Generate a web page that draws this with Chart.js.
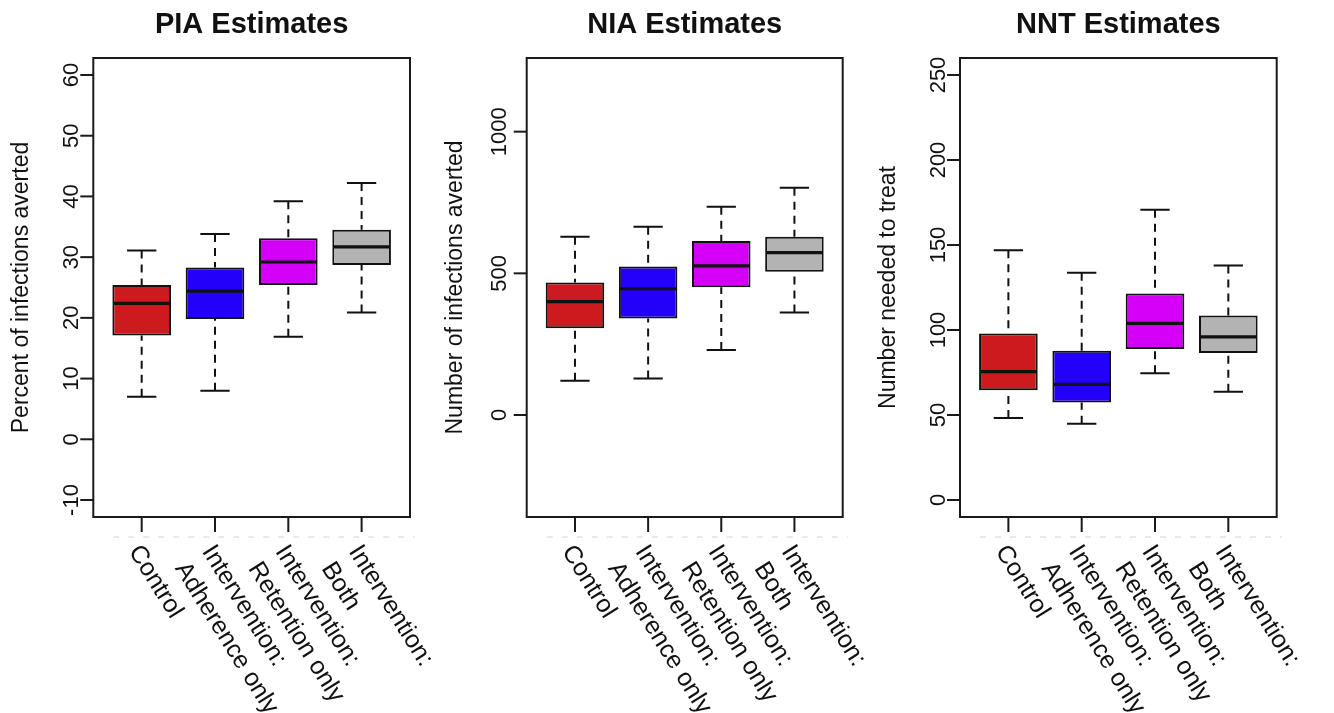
<!DOCTYPE html>
<html>
<head>
<meta charset="utf-8">
<script src="https://cdn.jsdelivr.net/npm/chart.js@4.4.1/dist/chart.umd.min.js"></script>
<style>
  html, body { margin: 0; padding: 0; background: #ffffff; }
  #wrap { position: relative; width: 1334px; height: 713px; overflow: hidden; background: #ffffff; }
  #wrap canvas { position: absolute; left: 0; top: 0; }
</style>
</head>
<body>
<div id="wrap">
  <canvas id="c1" width="1334" height="713"></canvas>
  <canvas id="c2" width="1334" height="713"></canvas>
  <canvas id="c3" width="1334" height="713"></canvas>
</div>
<script>
// ---------------- data ----------------
const categories = [
  ["Control"],
  ["Intervention:", "Adherence only"],
  ["Intervention:", "Retention only"],
  ["Intervention:", "Both"]
];
const positions = [1, 2, 3, 4];
const boxColors = ["#CC1A1E", "#2200FA", "#D200F6", "#B3B3B3"];

// PIA (percent of infections averted)
const piaLow    = [7.0, 8.0, 16.9, 20.9];
const piaQ1     = [17.1, 19.8, 25.4, 28.7];
const piaMedian = [22.4, 24.4, 29.2, 31.7];
const piaQ3     = [25.4, 28.3, 33.1, 34.5];
const piaHigh   = [31.1, 33.8, 39.2, 42.2];
const piaTicks  = [-10, 0, 10, 20, 30, 40, 50, 60];
const piaLimits = [-10, 60];

// NIA (number of infections averted)
const niaLow    = [121, 129, 229, 362];
const niaQ1     = [306, 341, 451, 506];
const niaMedian = [400, 446, 526, 573];
const niaQ3     = [468, 524, 614, 629];
const niaHigh   = [629, 664, 735, 802];
const niaTicks  = [0, 500, 1000];
const niaLimits = [-300, 1200];

// NNT (number needed to treat)
const nntLow    = [48.2, 44.9, 74.5, 63.7];
const nntQ1     = [64.5, 57.4, 88.8, 86.5];
const nntMedian = [75.5, 68.0, 103.9, 95.9];
const nntQ3     = [98.0, 87.8, 121.4, 108.6];
const nntHigh   = [146.9, 133.7, 170.8, 138.0];
const nntTicks  = [0, 50, 100, 150, 200, 250];
const nntLimits = [0, 250];

// ---------------- layout / style ----------------
const FONT = '"Liberation Sans", Arial, Helvetica, sans-serif';
const W = 1334, H = 713;
const panels = [
  { id: 'c1', title: 'PIA Estimates', ylab: 'Percent of infections averted',
    low: piaLow, q1: piaQ1, med: piaMedian, q3: piaQ3, high: piaHigh,
    ticks: piaTicks, limits: piaLimits, box: [93.3, 58, 410, 517], tickLabOff: 15 },
  { id: 'c2', title: 'NIA Estimates', ylab: 'Number of infections averted',
    low: niaLow, q1: niaQ1, med: niaMedian, q3: niaQ3, high: niaHigh,
    ticks: niaTicks, limits: niaLimits, box: [526.7, 58, 842.7, 517], tickLabOff: 21 },
  { id: 'c3', title: 'NNT Estimates', ylab: 'Number needed to treat',
    low: nntLow, q1: nntQ1, med: nntMedian, q3: nntQ3, high: nntHigh,
    ticks: nntTicks, limits: nntLimits, box: [960, 58, 1276.7, 517], tickLabOff: 15 }
];

// R-style 4% axis extension
function extend(lim) {
  const d = (lim[1] - lim[0]) * 0.04;
  return [lim[0] - d, lim[1] + d];
}
const xLimits = extend([0.5, positions.length + 0.5]);

const rBoxPlot = {
  id: 'rBoxPlot',
  beforeDatasetsDraw(chart, args, opts) {
    const p = opts.panel;
    const { ctx, scales: { x, y } } = chart;
    const meta = chart.getDatasetMeta(0);
    ctx.save();
    ctx.strokeStyle = '#111';
    ctx.lineWidth = 2;
    positions.forEach((pos, i) => {
      const xc = x.getPixelForValue(pos);
      const w = meta.data[i].width;
      ctx.setLineDash([8, 6]);
      ctx.beginPath();
      ctx.moveTo(xc, y.getPixelForValue(p.high[i]));
      ctx.lineTo(xc, y.getPixelForValue(p.q3[i]));
      ctx.moveTo(xc, y.getPixelForValue(p.low[i]));
      ctx.lineTo(xc, y.getPixelForValue(p.q1[i]));
      ctx.stroke();
      ctx.setLineDash([]);
      ctx.beginPath();
      [p.high[i], p.low[i]].forEach(v => {
        const yy = y.getPixelForValue(v);
        ctx.moveTo(xc - w / 4, yy);
        ctx.lineTo(xc + w / 4, yy);
      });
      ctx.stroke();
    });
    ctx.restore();
  },
  afterDatasetsDraw(chart, args, opts) {
    const p = opts.panel;
    const { ctx, scales: { x, y } } = chart;
    const meta = chart.getDatasetMeta(0);
    ctx.save();
    ctx.strokeStyle = '#111';
    ctx.lineWidth = 3.2;
    positions.forEach((pos, i) => {
      const xc = x.getPixelForValue(pos);
      const w = meta.data[i].width;
      const yy = y.getPixelForValue(p.med[i]);
      ctx.beginPath();
      ctx.moveTo(xc - w / 2 + 1, yy);
      ctx.lineTo(xc + w / 2 - 1, yy);
      ctx.stroke();
    });
    ctx.restore();
  },
  afterDraw(chart, args, opts) {
    const p = opts.panel;
    const { ctx, chartArea: a, scales: { x, y } } = chart;
    ctx.save();
    // faint dashed artefact line below the axis
    ctx.strokeStyle = '#e2e2e2';
    ctx.lineWidth = 1.5;
    ctx.setLineDash([6, 9]);
    ctx.beginPath();
    ctx.moveTo(a.left + 20, a.bottom + 20);
    ctx.lineTo(a.right + 5, a.bottom + 20);
    ctx.stroke();
    ctx.setLineDash([]);

    // frame
    ctx.strokeStyle = '#1a1a1a';
    ctx.lineWidth = 2;
    ctx.strokeRect(a.left, a.top, a.right - a.left, a.bottom - a.top);

    // y ticks + labels
    ctx.fillStyle = '#111';
    ctx.font = '22px ' + FONT;
    y.ticks.forEach(t => {
      const yy = y.getPixelForValue(t.value);
      ctx.beginPath();
      ctx.moveTo(a.left - 13, yy);
      ctx.lineTo(a.left, yy);
      ctx.stroke();
      ctx.save();
      ctx.translate(a.left - p.tickLabOff, yy);
      ctx.rotate(-Math.PI / 2);
      ctx.textAlign = 'center';
      ctx.textBaseline = 'alphabetic';
      ctx.fillText(String(t.value), 0, 0);
      ctx.restore();
    });

    // y axis title
    ctx.save();
    ctx.font = '23px ' + FONT;
    ctx.translate(a.left - 65, (a.top + a.bottom) / 2);
    ctx.rotate(-Math.PI / 2);
    ctx.textAlign = 'center';
    ctx.textBaseline = 'alphabetic';
    ctx.fillText(p.ylab, 0, 0);
    ctx.restore();

    // x ticks + rotated multi-line labels
    ctx.font = '25px ' + FONT;
    x.ticks.forEach((t, i) => {
      const xx = x.getPixelForValue(t.value);
      ctx.beginPath();
      ctx.moveTo(xx, a.bottom);
      ctx.lineTo(xx, a.bottom + 15);
      ctx.stroke();
      ctx.save();
      ctx.translate(xx + 3, a.bottom + 24);
      ctx.rotate(58 * Math.PI / 180);
      ctx.textAlign = 'left';
      ctx.textBaseline = 'top';
      categories[i].forEach((line, k) => ctx.fillText(line, 0, k * 32));
      ctx.restore();
    });

    // title
    ctx.font = 'bold 29px ' + FONT;
    ctx.textAlign = 'center';
    ctx.textBaseline = 'alphabetic';
    ctx.fillText(p.title, (a.left + a.right) / 2, 33);
    ctx.restore();
  }
};

panels.forEach(p => {
  const yl = extend(p.limits);
  const [bl, bt, br, bb] = p.box;
  new Chart(document.getElementById(p.id), {
    type: 'bar',
    data: {
      datasets: [{
        data: positions.map((pos, i) => ({ x: pos, y: [p.q1[i], p.q3[i]] })),
        backgroundColor: boxColors,
        borderColor: '#111',
        borderWidth: 2,
        borderSkipped: false,
        categoryPercentage: 1,
        barPercentage: 0.8
      }]
    },
    options: {
      responsive: false,
      animation: false,
      devicePixelRatio: 1,
      layout: { padding: { left: bl, top: bt, right: W - br, bottom: H - bb } },
      scales: {
        x: {
          type: 'linear', display: false, offset: false, min: xLimits[0], max: xLimits[1],
          afterBuildTicks: s => { s.ticks = positions.map(v => ({ value: v })); }
        },
        y: {
          type: 'linear', display: false, min: yl[0], max: yl[1],
          afterBuildTicks: s => { s.ticks = p.ticks.map(v => ({ value: v })); }
        }
      },
      plugins: {
        legend: { display: false },
        tooltip: { enabled: false },
        rBoxPlot: { panel: p }
      }
    },
    plugins: [rBoxPlot]
  });
});
</script>
</body>
</html>
